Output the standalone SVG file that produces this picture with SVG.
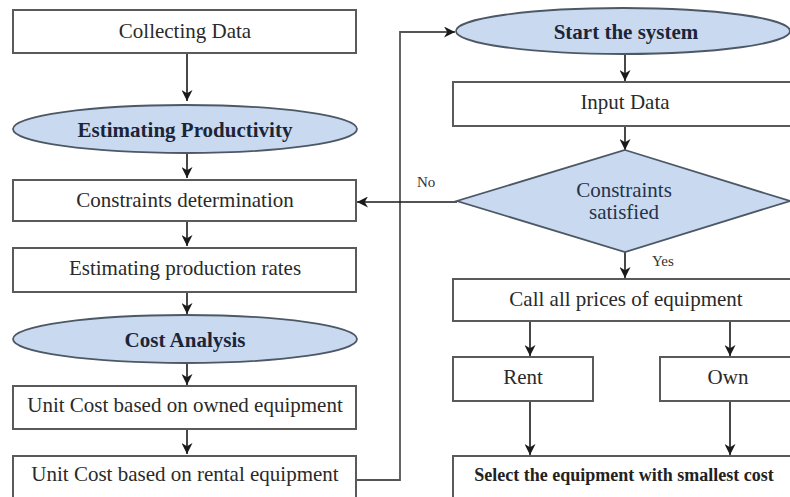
<svg xmlns="http://www.w3.org/2000/svg" width="790" height="497" viewBox="0 0 790 497">
<defs>
<marker id="ah" viewBox="0 0 10 10" refX="10" refY="5" markerWidth="11" markerHeight="11" markerUnits="userSpaceOnUse" orient="auto">
<path d="M0,0 L10,5 L0,10 L3,5 Z" fill="#1a1a1a"/>
</marker>
<style>
.box{fill:#ffffff;stroke:#5a5a5a;stroke-width:2}
.term{fill:#c9daf0;stroke:#4d5866;stroke-width:1.8}
text{font-family:"Liberation Serif","Times New Roman","DejaVu Serif",serif}
.t{font-size:21px;fill:#2a2a2a;text-anchor:middle}
.b{font-size:21px;font-weight:bold;fill:#1c2538;text-anchor:middle}
.d{font-size:21px;fill:#26324a;text-anchor:middle}
.s{font-size:15px;fill:#333}
.c{fill:none;stroke:#1a1a1a;stroke-width:1.6;marker-end:url(#ah)}
</style>
</defs>
<rect width="790" height="497" fill="#ffffff"/>

<g id="connectors">
<line class="c" x1="187" y1="53" x2="187" y2="101"/>
<line class="c" x1="187" y1="153" x2="187" y2="178"/>
<line class="c" x1="187" y1="221" x2="187" y2="246"/>
<line class="c" x1="187" y1="292" x2="187" y2="314"/>
<line class="c" x1="187" y1="363" x2="187" y2="385"/>
<line class="c" x1="187" y1="429" x2="187" y2="454"/>
<polyline class="c" style="stroke:#555;stroke-width:1.8" points="356,480 400,480 400,32 455,32"/>
<line class="c" x1="625" y1="55" x2="625" y2="81"/>
<line class="c" x1="625" y1="126" x2="625" y2="150"/>
<line class="c" x1="457" y1="202" x2="357" y2="202"/>
<line class="c" x1="625" y1="252" x2="625" y2="278"/>
<line class="c" x1="530" y1="321" x2="530" y2="356"/>
<line class="c" x1="730" y1="321" x2="730" y2="356"/>
<line class="c" x1="530" y1="401" x2="530" y2="455"/>
<line class="c" x1="730" y1="401" x2="730" y2="455"/>
<text class="s" x="417" y="187">No</text>
<text class="s" x="652" y="266">Yes</text>
</g>

<g id="collecting-data">
<rect class="box" x="13" y="10" width="343" height="43"/>
<text class="t" x="185" y="38">Collecting Data</text>
</g>
<g id="estimating-productivity">
<ellipse class="term" cx="185" cy="129" rx="172" ry="24"/>
<text class="b" x="185" y="137">Estimating Productivity</text>
</g>
<g id="constraints-determination">
<rect class="box" x="13" y="180" width="343" height="41"/>
<text class="t" x="185" y="207">Constraints determination</text>
</g>
<g id="estimating-production-rates">
<rect class="box" x="13" y="248" width="343" height="44"/>
<text class="t" x="185" y="275">Estimating production rates</text>
</g>
<g id="cost-analysis">
<ellipse class="term" cx="185" cy="339" rx="172" ry="24"/>
<text class="b" x="185" y="347">Cost Analysis</text>
</g>
<g id="unit-cost-owned">
<rect class="box" x="13" y="386" width="343" height="43"/>
<text class="t" x="185" y="412">Unit Cost based on owned equipment</text>
</g>
<g id="unit-cost-rental">
<rect class="box" x="13" y="456" width="343" height="44"/>
<text class="t" x="185" y="481">Unit Cost based on rental equipment</text>
</g>

<g id="start-the-system">
<ellipse class="term" cx="623" cy="31" rx="167" ry="23"/>
<text class="b" x="626" y="39">Start the system</text>
</g>
<g id="input-data">
<rect class="box" x="453" y="82" width="345" height="44"/>
<text class="t" x="625" y="109">Input Data</text>
</g>
<g id="constraints-satisfied">
<polygon class="term" points="625,150 790,201 625,252 457,201"/>
<text class="d" x="624" y="197">Constraints</text>
<text class="d" x="624" y="219">satisfied</text>
</g>
<g id="call-all-prices">
<rect class="box" x="453" y="279" width="345" height="42"/>
<text class="t" x="626" y="306">Call all prices of equipment</text>
</g>
<g id="rent">
<rect class="box" x="453" y="357" width="140" height="44"/>
<text class="t" x="523" y="384">Rent</text>
</g>
<g id="own">
<rect class="box" x="660" y="357" width="140" height="44"/>
<text class="t" x="728" y="384">Own</text>
</g>
<g id="select-equipment">
<rect class="box" x="453" y="456" width="345" height="44"/>
<text class="b" style="font-size:18px;fill:#222" x="624" y="481">Select the equipment with smallest cost</text>
</g>
</svg>
